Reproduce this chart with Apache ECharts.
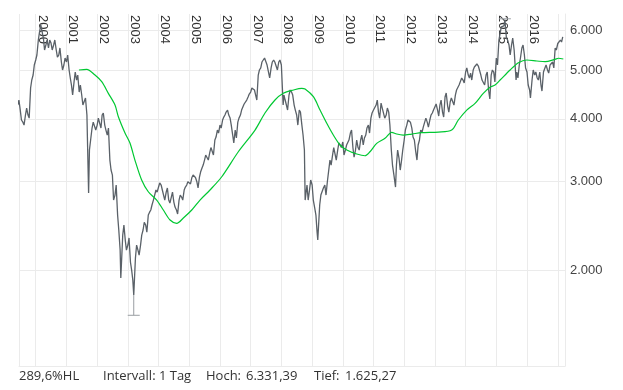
<!DOCTYPE html>
<html>
<head>
<meta charset="utf-8">
<script src="https://cdn.jsdelivr.net/npm/echarts@6/dist/echarts.min.js"></script>
<style>html,body{margin:0;padding:0;background:#fff;}#c{width:623px;height:390px;}</style>
</head>
<body>
<div id="c"></div>
<script>
// ---- data ----
const monthlyStart = [1999, 6]; // first month: June 1999
// value on the 1st of each month
const monthlyClose = [
  4263, 4166, 3941, 4072, 4072, 4609, 4892,
  5241, 5744, 6154, 5797, 5614, 5538, 5665, 5614, 5487, 5362, 5193, 5122,
  5193, 5006, 4673, 4740, 4781, 4525, 4463, 4263, 4072, 3468, 3836, 3960,
  3889, 3980, 4072, 3889, 3715, 3312, 3092, 2821, 2574, 2192, 2348, 2295,
  2243, 2073, 1910, 2113, 2192, 2243, 2403, 2458, 2574, 2634, 2757, 2887,
  2927, 2954, 2887, 2860, 2757, 2795, 2732, 2634, 2757, 2795, 2887, 2954,
  3022, 3058, 3092, 2998, 3058, 3193, 3312, 3389, 3428, 3508, 3631, 3801,
  3889, 3980, 4072, 4166, 4015, 3715, 3801, 3941, 4072, 4204, 4302, 4422,
  4525, 4609, 4463, 4892, 5053, 5193, 5241, 4960, 5053, 5241, 5169, 5193,
  5122, 4463, 4263, 4463, 4525, 4263, 4072, 4166, 3889, 3468, 2954, 2887,
  2954, 2658, 2380, 2695, 2821, 2954, 2998, 3312, 3389, 3508, 3468, 3549,
  3598, 3468, 3549, 3749, 3508, 3468, 3508, 3631, 3549, 3715, 3889, 4015,
  4166, 4263, 4127, 4302, 4166, 4072, 4127, 3468, 3092, 3237, 3337, 3312,
  3631, 3889, 4015, 3836, 3631, 3312, 3631, 3766, 3941, 3941, 3980, 4110,
  4204, 4166, 4263, 4127, 4422, 4243, 4322, 4362, 4463, 4609, 4716, 4781,
  4960, 4892, 4937, 5006, 5053, 5098, 4892, 4781, 4892, 4567, 4892, 4960,
  5289, 5744, 6098, 6126, 5797, 5614, 5614, 5487, 4960, 5122, 5538, 5362,
  4960, 4567, 4781, 4892, 4826, 4960, 4630, 5053, 5006, 5122, 5193, 5538,
  5653, 5744, 5825
];
// value on the 15th of each month (null = see swings)
const midMonthClose = [
  4362, 3980, 3889, 4204, 4015, 4781, 5122,
  5362, 5958, 6210, 5487, 5744, 5744, 5487, 5744, 5312, 5538, 5006, 5289,
  5362, 4826, 4463, 4960, 4892, 4673, 4263, 4402, null, 3631, 3941, 3801,
  4015, 3836, 4110, 3801, 3836, 3164, 2757, 2954, 2403, null, 2458, 2192,
  2317, 2000, null, 2243, 2142, 2348, 2490, 2380, 2605, 2695, 2757, 2860,
  2982, 2887, 2757, 2914, 2720, 2860, 2670, 2586, 2821, 2757, 2927, 2998,
  2968, 3092, 3058, 2914, 3135, 3237, 3389, 3312, 3508, 3389, 3681, 3749,
  3836, 4034, 4127, 4072, 3889, null, 3665, 4015, 4166, 4283, 4362, 4483,
  4609, 4567, 4362, 5006, 5193, 5289, 5122, 4826, 5193, 5193, 5006, 5241,
  null, 4362, 4166, 4567, 4463, 4166, 3889, 4127, 3715, null, 2757, 3022,
  2757, 2574, null, 2821, 2914, 2821, 3022, 3237, 3508, 3312, 3582, 3508,
  3389, 3549, 3631, 3801, 3357, 3631, 3468, 3715, 3665, 3836, 3749, 4110,
  4204, 4362, 4015, 4204, 4015, 4204, 3889, 3237, null, 3468, 3164, 3468,
  3801, 3980, 3941, 3681, 3468, 3549, 3801, 3852, 4015, 3852, 4072, 4166,
  4283, 4053, 4362, 4034, 4505, 4127, 4402, 4263, 4567, 4673, 4826, 4716,
  5053, 4826, 4781, 5076, 5146, 5098, 4781, 4673, 4960, null, 5006, 4740,
  5122, 5744, 6154, null, 5744, 5362, 5797, null, 4826, 5289, 5614, 5053,
  4673, null, 5006, 4960, 4781, 4673, 4960, 5122, 4937, 5098, 5053, 5487,
  5614, 5691, null
];
// intra-month swings
const swingDates  = ['2001-09-21','2002-10-09','2003-03-12','2006-06-14','2008-01-22','2008-10-10','2009-03-09','2011-09-20','2014-10-16','2015-04-13','2015-08-24','2016-02-11','2016-06-27'];
const swingValues = [2847, 1928, 1784, 3582, 4263, 2757, 2295, 2926, 4383, 6296, 4781, 4404, 4546];

// green moving average
const maDates = ['2001-05-29','2001-08-29','2001-12-06','2002-02-24','2002-05-14','2002-08-01','2002-09-10','2002-11-28','2003-01-26','2003-03-26','2003-06-14','2003-09-01','2003-12-10','2004-02-27','2004-05-17','2004-08-04','2004-10-22','2005-01-30','2005-05-08','2005-09-04','2006-01-22','2006-08-07','2007-02-22','2007-06-20','2007-10-17','2008-01-24','2008-05-23','2008-08-30','2008-10-09','2009-01-16','2009-04-05','2009-06-24','2009-09-10','2009-11-29','2010-02-17','2010-06-16','2010-09-22','2010-11-20','2011-02-08','2011-05-18','2011-08-06','2011-10-04','2011-12-21','2012-03-31','2012-07-28','2013-02-11','2013-07-19','2013-10-06','2014-01-14','2014-04-23','2014-07-30','2014-10-18','2014-12-17','2015-02-15','2015-06-14','2015-09-21','2015-12-29','2016-04-27','2016-08-03','2016-11-30','2017-01-08','2017-03-08'];
const maValues = [5006,5021,4892,4744,4498,4263,4040,3749,3581,3312,3022,2864,2757,2634,2516,2478,2539,2634,2757,2887,3068,3441,3801,4110,4362,4498,4567,4603,4588,4429,4166,3920,3715,3549,3468,3405,3378,3441,3576,3659,3762,3732,3715,3732,3755,3766,3801,3980,4166,4296,4498,4624,4673,4781,5006,5176,5241,5217,5200,5257,5283,5265];

// high / low markers
const hlDates  = ['2003-03-12', '2015-04-13'];
const hlLine   = [1784, 6296];
const hlValues = [1625.27, 6331.39];

const yTicks = [2000, 3000, 4000, 5000, 6000];
const xMin = '1999-06-16', xMax = '2017-03-28';
const footer = ['289,6%HL', 'Intervall: 1 Tag', 'Hoch:', '6.331,39', 'Tief:', '1.625,27'];

// ---- build ----
function ts(s){ return new Date(s + 'T00:00:00Z').getTime(); }
const closeData = [];
monthlyClose.forEach((v, i) => {
  const m = monthlyStart[1] - 1 + i;
  const y = monthlyStart[0] + Math.floor(m / 12);
  closeData.push([Date.UTC(y, m % 12, 1), v]);
  if (midMonthClose[i] != null) closeData.push([Date.UTC(y, m % 12, 15), midMonthClose[i]]);
});
swingDates.forEach((d, i) => closeData.push([ts(d), swingValues[i]]));
closeData.sort((a, b) => a[0] - b[0]);
const maData = maDates.map((d, i) => [ts(d), maValues[i]]);
const hlData = hlDates.map((d, i) => [ts(d), hlLine[i], hlValues[i]]);

function deFmt(v){ return String(v).replace(/\B(?=(\d{3})+(?!\d))/g, '.'); }

const YEAR = 365 * 24 * 3600 * 1000;
const gridColor = '#ebebeb';
const chart = echarts.init(document.getElementById('c'), null, {renderer: 'canvas'});
chart.setOption({
  animation: false,
  backgroundColor: '#fff',
  grid: {left: 19, right: 58, top: 14, bottom: 24, containLabel: false, outerBoundsMode: 'none'},
  xAxis: [{
    type: 'time', position: 'top', min: ts(xMin), max: ts(xMax),
    minInterval: YEAR, maxInterval: YEAR + 2 * 86400000,
    axisLine: {show: false}, axisTick: {show: false},
    splitLine: {show: true, lineStyle: {color: gridColor, width: 1}},
    axisLabel: {
      inside: true, rotate: 90, margin: 1, align: 'left', verticalAlign: 'bottom',
      color: '#333', fontSize: 13, fontFamily: 'Liberation Sans',
      formatter: function (v) { const y = new Date(v).getUTCFullYear(); return y > 2016 ? '' : String(y); }
    }
  }, {
    type: 'time', position: 'bottom', min: ts(xMin), max: ts(xMax),
    axisLine: {show: true, lineStyle: {color: gridColor}},
    axisTick: {show: false}, axisLabel: {show: false}, splitLine: {show: false}
  }],
  yAxis: {
    type: 'log', logBase: 10, position: 'right', min: 1288, max: 6472,
    axisLine: {show: true, lineStyle: {color: gridColor}},
    axisTick: {show: false, customValues: yTicks},
    splitLine: {show: true, lineStyle: {color: gridColor}},
    axisLabel: {customValues: yTicks, formatter: deFmt, color: '#444', fontSize: 13, fontFamily: 'Liberation Sans', margin: 5}
  },
  series: [{
    type: 'line', data: closeData, showSymbol: false, symbol: 'none',
    lineStyle: {color: '#5a6168', width: 1.3}, z: 3
  }, {
    type: 'line', data: maData, showSymbol: false, symbol: 'none', smooth: 0.3,
    lineStyle: {color: '#00c832', width: 1.2}, z: 4
  }, {
    type: 'custom', data: hlData, z: 2,
    renderItem: function (params, api) {
      const a = api.coord([api.value(0), api.value(1)]);
      const e = api.coord([api.value(0), api.value(2)]);
      const st = {stroke: '#9a9ea3', lineWidth: 1};
      return {type: 'group', children: [
        {type: 'line', shape: {x1: a[0], y1: a[1], x2: e[0], y2: e[1]}, style: st},
        {type: 'line', shape: {x1: e[0] - 6, y1: e[1], x2: e[0] + 6, y2: e[1]}, style: st}
      ]};
    }
  }],
  graphic: [
    {type: 'text', left: 19, top: 370, style: {text: footer[0], font: '13px "Open Sans"', fill: '#333'}},
    {type: 'text', left: 103, top: 370, style: {text: footer[1], font: '13px "Open Sans"', fill: '#333'}},
    {type: 'text', left: 206, top: 370, style: {text: footer[2], font: '13px "Open Sans"', fill: '#333'}},
    {type: 'text', left: 246, top: 370, style: {text: footer[3], font: '13px "Open Sans"', fill: '#333'}},
    {type: 'text', left: 314, top: 370, style: {text: footer[4], font: '13px "Open Sans"', fill: '#333'}},
    {type: 'text', left: 345, top: 370, style: {text: footer[5], font: '13px "Open Sans"', fill: '#333'}}
  ]
});
</script>
</body>
</html>
